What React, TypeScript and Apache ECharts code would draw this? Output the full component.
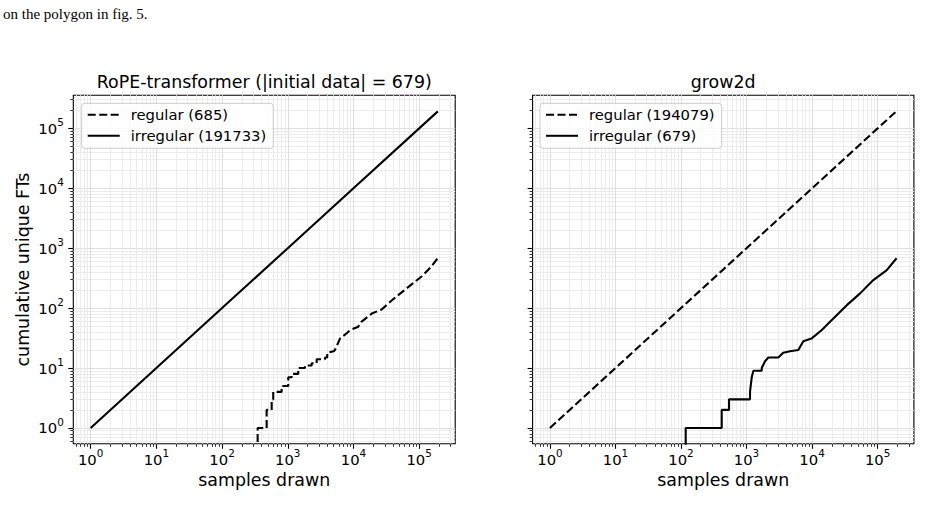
import React, { useEffect, useRef } from 'react';
import * as echarts from 'echarts';

// ---------- data ----------
const pageText = 'on the polygon in fig. 5.';
const leftTitle = 'RoPE-transformer (|initial data| = 679)';
const rightTitle = 'grow2d';
const xAxisName = 'samples drawn';
const yAxisName = 'cumulative unique FTs';

const majorExponents = [0, 1, 2, 3, 4, 5];
const minorDecades = [-1, 0, 1, 2, 3, 4, 5];
const minorMultipliers = [2, 3, 4, 5, 6, 7, 8, 9];

// left panel: RoPE-transformer
const leftRegularName = 'regular (685)';
const leftRegularSamples = [348, 348, 477, 477, 569, 569, 601, 601, 807, 807, 1018, 1018, 1147, 1147, 1445, 1445, 1828, 1828, 2312, 2312, 2754, 2754, 3684, 3684, 3991, 3991, 5000, 5228, 6237, 7887, 8900, 11840, 13200, 19000, 26900, 40000, 64600, 110000, 150000, 192418];
const leftRegularCounts = [0, 1, 1, 2, 2, 3, 3, 4, 4, 5, 5, 7, 7, 8, 8, 10, 10, 11, 11, 12, 12, 14, 14, 15, 15, 18, 19, 20, 31, 38, 43, 49, 59, 81, 95, 140, 214, 340, 480, 685];
const leftIrregularName = 'irregular (191733)';
const leftIrregularSamples = [1, 10, 100, 1000, 10000, 100000, 192418];
const leftIrregularCounts = [1, 10, 100, 999, 9979, 99640, 191733];

// right panel: grow2d
const rightRegularName = 'regular (194079)';
const rightRegularSamples = [1, 10, 100, 1000, 10000, 100000, 194758];
const rightRegularCounts = [1, 10, 100, 998, 9970, 99660, 194079];
const rightIrregularName = 'irregular (679)';
const rightIrregularSamples = [118, 118, 418, 418, 541, 541, 1130, 1130, 1200, 1273, 1706, 1706, 1915, 2153, 3060, 3630, 4610, 6170, 7360, 9770, 14100, 18800, 33900, 54100, 86100, 138000, 194758];
const rightIrregularCounts = [0, 1, 1, 2, 2, 3, 3, 4, 7, 9, 9, 10, 13, 15, 15, 18, 19, 20, 28, 31, 43, 59, 112, 176, 293, 430, 679];

// axis limits (in log10 units)
const xLimLeft = [-0.2642, 5.5485];
const xLimRight = [-0.2645, 5.554];
const yLim = [-0.2644, 5.5524];

// ---------- helpers ----------
const FONT = 'DejaVu Sans';
const toLog = (v: number) => (v > 0 ? Math.log10(v) : -1);
const pairs = (xs: number[], ys: number[]) => xs.map((x, i) => [Math.log10(x), toLog(ys[i])]);
const minorValues = (lim: number[]) => {
  const out: number[] = [];
  minorDecades.forEach((d) =>
    minorMultipliers.forEach((m) => {
      const v = d + Math.log10(m);
      if (v > lim[0] && v < lim[1]) out.push(v);
    })
  );
  return out;
};

const tickFormatter = (v: number) => `{b|10}{s|${Math.round(v)}}`;
const tickRich = {
  b: { fontSize: 14.8, fontFamily: FONT, color: '#000', lineHeight: 22 },
  s: { fontSize: 10.4, fontFamily: FONT, color: '#000', lineHeight: 12, verticalAlign: 'top' },
};

function makeAxes(dim: 'x' | 'y', gridIndex: number, lim: number[], showLabels: boolean, name?: string) {
  const major: any = {
    type: 'value',
    gridIndex,
    min: lim[0],
    max: lim[1],
    position: dim === 'x' ? 'bottom' : 'left',
    axisLine: { show: false, onZero: false },
    axisTick: { show: true, inside: false, length: 5, lineStyle: { color: '#000', width: 1.1 }, customValues: majorExponents },
    axisLabel: {
      show: showLabels,
      customValues: majorExponents,
      formatter: tickFormatter,
      rich: tickRich,
      margin: dim === 'x' ? 4.5 : 9.5,
    },
    splitLine: { show: true, lineStyle: { color: '#dedede', width: 1 } },
  };
  if (name) {
    major.name = name;
    major.nameLocation = 'middle';
    major.nameGap = dim === 'x' ? 27 : 41.5;
    major.nameTextStyle = { fontSize: 17.4, fontFamily: FONT, color: '#000' };
  }
  const minor: any = {
    type: 'value',
    gridIndex,
    min: lim[0],
    max: lim[1],
    position: dim === 'x' ? 'bottom' : 'left',
    axisLine: { show: false, onZero: false },
    axisTick: { show: true, inside: false, length: 3, lineStyle: { color: '#000', width: 0.8 }, customValues: minorValues(lim) },
    axisLabel: { show: false },
    splitLine: { show: true, lineStyle: { color: '#ececec', width: 1 } },
  };
  return [major, minor];
}

const lineSeries = (name: string, data: number[][], axisIdx: number, dashed: boolean) => ({
  type: 'line',
  name,
  xAxisIndex: axisIdx,
  yAxisIndex: axisIdx,
  data,
  symbol: 'none',
  showSymbol: false,
  clip: true,
  z: 3,
  lineStyle: { color: '#000', width: 2.1, type: dashed ? [8, 3.5] : 'solid', cap: 'butt' },
  itemStyle: { color: '#000' },
});

const legendCommon = {
  orient: 'vertical',
  padding: [4, 7, 5, 5],
  itemWidth: 32,
  itemHeight: 14,
  itemGap: 6,
  backgroundColor: 'rgba(255,255,255,0.8)',
  borderColor: '#cccccc',
  borderWidth: 1,
  borderRadius: 3,
  itemStyle: { opacity: 0, borderWidth: 0 },
  textStyle: { fontSize: 14.8, fontFamily: FONT, color: '#000', padding: [0, 0, 0, 6] },
};

const titleStyle = { fontSize: 17.4, fontWeight: 'normal', fontFamily: FONT, color: '#000' };
const gridCommon = { show: true, borderColor: '#000', borderWidth: 1.1, backgroundColor: 'transparent', outerBoundsMode: 'none', containLabel: false };

const option: any = {
  animation: false,
  backgroundColor: '#fff',
  title: [
    { text: leftTitle, left: 264.3, top: 73, textAlign: 'center', padding: 0, textStyle: titleStyle },
    { text: rightTitle, left: 723.2, top: 73, textAlign: 'center', padding: 0, textStyle: titleStyle },
  ],
  graphic: [
    {
      type: 'text',
      x: 3,
      y: 14,
      style: { text: pageText, font: '15px "Liberation Serif"', fill: '#000', verticalAlign: 'middle' },
    },
  ],
  grid: [
    { ...gridCommon, left: 73.3, top: 95.2, width: 381.9, height: 348.6 },
    { ...gridCommon, left: 532.6, top: 95.2, width: 381.3, height: 348.6 },
  ],
  xAxis: [...makeAxes('x', 0, xLimLeft, true, xAxisName), ...makeAxes('x', 1, xLimRight, true, xAxisName)],
  yAxis: [...makeAxes('y', 0, yLim, true, yAxisName), ...makeAxes('y', 1, yLim, false)],
  legend: [
    { ...legendCommon, left: 81.7, top: 103.3, data: [leftRegularName, leftIrregularName] },
    { ...legendCommon, left: 540, top: 103.3, data: [rightRegularName, rightIrregularName] },
  ],
  series: [
    lineSeries(leftRegularName, pairs(leftRegularSamples, leftRegularCounts), 0, true),
    lineSeries(leftIrregularName, pairs(leftIrregularSamples, leftIrregularCounts), 0, false),
    lineSeries(rightRegularName, pairs(rightRegularSamples, rightRegularCounts), 2, true),
    lineSeries(rightIrregularName, pairs(rightIrregularSamples, rightIrregularCounts), 2, false),
  ],
};

export default function App() {
  const ref = useRef<HTMLDivElement>(null);
  useEffect(() => {
    const chart = echarts.init(ref.current!, null, { renderer: 'svg' });
    chart.setOption(option);
    return () => chart.dispose();
  }, []);
  return (
    <div
      ref={ref}
      style={{ position: 'fixed', left: 0, top: 0, width: 928, height: 521, background: '#fff' }}
    />
  );
}
